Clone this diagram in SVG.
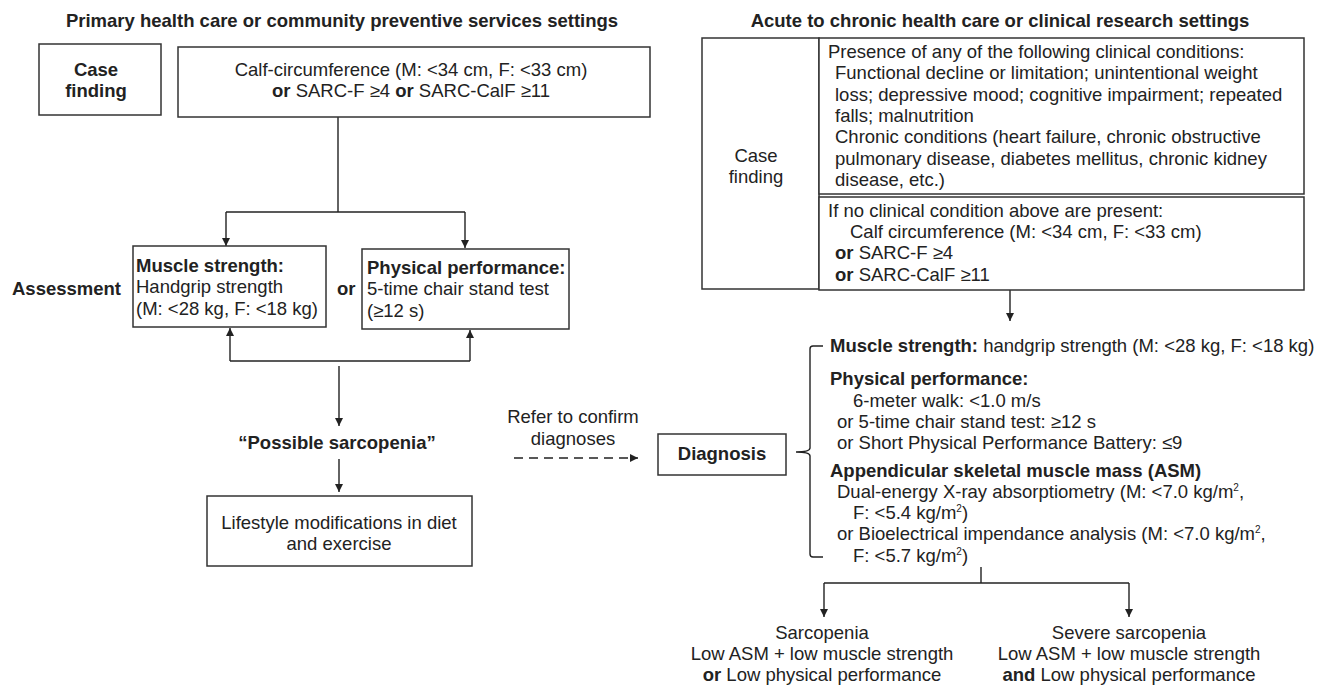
<svg xmlns="http://www.w3.org/2000/svg" width="1331" height="686" viewBox="0 0 1331 686">
<style>
text{font-family:"Liberation Sans",Arial,Helvetica,sans-serif;font-size:18.5px;fill:#222}
.b{font-weight:bold}
.m{text-anchor:middle}
.box{fill:#fff;stroke:#333;stroke-width:1.5}
.ln{fill:none;stroke:#222;stroke-width:1.4}
.sup{font-size:10px}
</style>
<defs>
<marker id="ah" markerUnits="userSpaceOnUse" markerWidth="9" markerHeight="8" refX="8" refY="4" orient="auto">
<path d="M0,0 L8,4 L0,8 z" fill="#222"/>
</marker>
</defs>
<rect width="1331" height="686" fill="#fff"/>

<text class="b m" x="342" y="27">Primary health care or community preventive services settings</text>
<text class="b m" x="1000" y="27">Acute to chronic health care or clinical research settings</text>

<g id="connectors">
<polyline class="ln" points="338,117 338,212"/>
<polyline class="ln" points="226,212 465,212"/>
<line class="ln" x1="226" y1="212" x2="226" y2="246" marker-end="url(#ah)"/>
<line class="ln" x1="465" y1="212" x2="465" y2="248" marker-end="url(#ah)"/>
<line class="ln" x1="230" y1="361" x2="230" y2="328" marker-end="url(#ah)"/>
<line class="ln" x1="470" y1="361" x2="470" y2="330" marker-end="url(#ah)"/>
<polyline class="ln" points="230,361 470,361"/>
<line class="ln" x1="339" y1="366" x2="339" y2="426" marker-end="url(#ah)"/>
<line class="ln" x1="339" y1="459" x2="339" y2="492" marker-end="url(#ah)"/>
<line class="ln" x1="514" y1="458" x2="638" y2="458" stroke-dasharray="9,6" marker-end="url(#ah)"/>
<line class="ln" x1="1010" y1="290" x2="1010" y2="321" marker-end="url(#ah)"/>
<path class="ln" d="M823,346 L813,346 Q810,346 810,349 L810,448 Q810,452 796,452 Q810,452 810,456 L810,554 Q810,557 813,557 L823,557"/>
<polyline class="ln" points="981,567 981,583"/>
<polyline class="ln" points="824,583 1129,583"/>
<line class="ln" x1="824" y1="583" x2="824" y2="617" marker-end="url(#ah)"/>
<line class="ln" x1="1129" y1="583" x2="1129" y2="617" marker-end="url(#ah)"/>
</g>

<g id="case-finding-left">
<rect class="box" x="39" y="44" width="122" height="71"/>
<text class="b m" x="96" y="76">Case</text>
<text class="b m" x="96" y="97">finding</text>
</g>

<g id="calf-left">
<rect class="box" x="178" y="47" width="472" height="70"/>
<text class="m" x="411" y="76">Calf-circumference (M: &lt;34 cm, F: &lt;33 cm)</text>
<text class="m" x="411" y="97"><tspan class="b">or</tspan> SARC-F ≥4 <tspan class="b">or</tspan> SARC-CalF ≥11</text>
</g>

<g id="assessment">
<text class="b" x="12" y="295">Assessment</text>
<text class="b" x="337" y="295">or</text>
</g>

<g id="muscle-strength">
<rect class="box" x="133" y="246" width="193" height="81"/>
<text class="b" x="136" y="272">Muscle strength:</text>
<text x="136" y="293">Handgrip strength</text>
<text x="136" y="315">(M: &lt;28 kg, F: &lt;18 kg)</text>
</g>

<g id="physical-performance">
<rect class="box" x="362" y="249" width="207" height="80"/>
<text class="b" x="367" y="274">Physical performance:</text>
<text x="367" y="295">5-time chair stand test</text>
<text x="367" y="317">(≥12 s)</text>
</g>

<g id="possible-sarcopenia">
<text class="b m" x="337" y="449">“Possible sarcopenia”</text>
</g>

<g id="lifestyle">
<rect class="box" x="207" y="496" width="265" height="70"/>
<text class="m" x="339" y="529">Lifestyle modifications in diet</text>
<text class="m" x="339" y="550">and exercise</text>
</g>

<g id="refer">
<text class="m" x="573" y="423">Refer to confirm</text>
<text class="m" x="573" y="445">diagnoses</text>
</g>

<g id="case-finding-right">
<rect class="box" x="702" y="38" width="117" height="251"/>
<text class="m" x="756" y="162">Case</text>
<text class="m" x="756" y="183">finding</text>
</g>

<g id="clinical-conditions">
<rect class="box" x="819" y="38" width="485" height="156"/>
<text x="828" y="58">Presence of any of the following clinical conditions:</text>
<text x="835" y="79">Functional decline or limitation; unintentional weight</text>
<text x="835" y="101">loss; depressive mood; cognitive impairment; repeated</text>
<text x="835" y="122">falls; malnutrition</text>
<text x="835" y="143">Chronic conditions (heart failure, chronic obstructive</text>
<text x="835" y="165">pulmonary disease, diabetes mellitus, chronic kidney</text>
<text x="835" y="186">disease, etc.)</text>
</g>

<g id="no-condition">
<rect class="box" x="819" y="197" width="485" height="93"/>
<text x="828" y="217">If no clinical condition above are present:</text>
<text x="850" y="238">Calf circumference (M: &lt;34 cm, F: &lt;33 cm)</text>
<text x="835" y="259"><tspan class="b">or</tspan> SARC-F ≥4</text>
<text x="835" y="281"><tspan class="b">or</tspan> SARC-CalF ≥11</text>
</g>

<g id="diagnosis">
<rect class="box" x="658" y="434" width="128" height="41"/>
<text class="b m" x="722" y="460">Diagnosis</text>
</g>

<g id="criteria">
<text x="830" y="352"><tspan class="b">Muscle strength:</tspan> handgrip strength (M: &lt;28 kg, F: &lt;18 kg)</text>
<text class="b" x="830" y="385">Physical performance:</text>
<text x="853" y="407">6-meter walk: &lt;1.0 m/s</text>
<text x="837" y="428">or 5-time chair stand test: ≥12 s</text>
<text x="837" y="449">or Short Physical Performance Battery: ≤9</text>
<text class="b" x="830" y="477">Appendicular skeletal muscle mass (ASM)</text>
<text x="837" y="498">Dual-energy X-ray absorptiometry (M: &lt;7.0 kg/m<tspan class="sup" dy="-7">2</tspan><tspan dy="7">,</tspan></text>
<text x="853" y="519">F: &lt;5.4 kg/m<tspan class="sup" dy="-7">2</tspan><tspan dy="7">)</tspan></text>
<text x="837" y="540">or Bioelectrical impendance analysis (M: &lt;7.0 kg/m<tspan class="sup" dy="-7">2</tspan><tspan dy="7">,</tspan></text>
<text x="853" y="562">F: &lt;5.7 kg/m<tspan class="sup" dy="-7">2</tspan><tspan dy="7">)</tspan></text>
</g>

<g id="sarcopenia">
<text class="m" x="822" y="639">Sarcopenia</text>
<text class="m" x="822" y="660">Low ASM + low muscle strength</text>
<text class="m" x="822" y="681"><tspan class="b">or</tspan> Low physical performance</text>
</g>

<g id="severe-sarcopenia">
<text class="m" x="1129" y="639">Severe sarcopenia</text>
<text class="m" x="1129" y="660">Low ASM + low muscle strength</text>
<text class="m" x="1129" y="681"><tspan class="b">and</tspan> Low physical performance</text>
</g>
</svg>
